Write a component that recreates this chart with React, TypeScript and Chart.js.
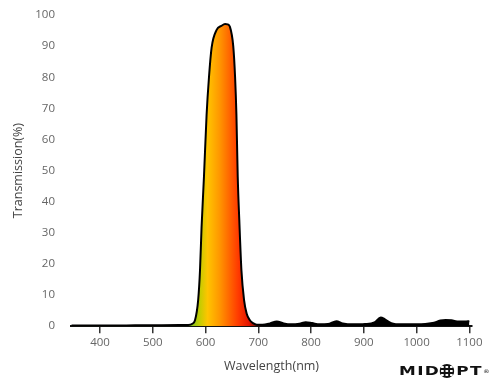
import { useEffect, useRef } from 'react';
import { Chart, registerables } from 'chart.js';

Chart.register(...registerables);

// Wavelength (nm) sample points and transmission (%)
const wavelengths = [
  346, 400, 450, 500, 550, 567, 575, 580, 586, 589.5, 592.5, 597, 602, 606.5, 611.5, 621, 630, 637, 642,
  646, 652.5, 656, 658.5, 661, 664, 668, 673, 678, 684, 690, 697, 708, 722, 735, 748, 762, 778, 790, 802,
  816, 832, 848, 860, 880, 902, 920, 932, 940, 952, 972, 1000, 1030, 1045, 1055, 1066, 1080, 1092, 1100,
];
const transmission = [
  0.2, 0.2, 0.25, 0.3, 0.35, 0.4, 0.8, 1.9, 8.4, 18, 32, 48, 68, 80, 89.5, 95.2, 96.5, 97.1, 97,
  96.3, 90, 80, 68, 48, 34, 18, 8.4, 4, 1.9, 1, 0.5, 0.5, 0.9, 1.5, 0.9, 0.6, 0.8, 1.3, 1.0,
  0.6, 0.7, 1.6, 0.9, 0.6, 0.7, 1.2, 2.8, 2.2, 1.0, 0.6, 0.6, 1.0, 1.8, 2.0, 1.9, 1.5, 1.5, 1.6,
];
const xTickValues = [400, 500, 600, 700, 800, 900, 1000, 1100];
const yTickValues = [0, 10, 20, 30, 40, 50, 60, 70, 80, 90, 100];
const xTitle = 'Wavelength(nm)';
const yTitle = 'Transmission(%)';

// Spectrum fill colours by wavelength
const spectrumStops: [number, string][] = [
  [572, '#7fc21f'],
  [590, '#c8cc00'],
  [604, '#ffc400'],
  [626, '#ff9800'],
  [646, '#ff6400'],
  [662, '#ff3a00'],
  [682, '#e41400'],
  [697, '#701000'],
  [710, '#000000'],
];

export default function App() {
  const canvasRef = useRef<HTMLCanvasElement | null>(null);

  useEffect(() => {
    const canvas = canvasRef.current;
    if (!canvas) return;
    const font = 'Open Sans';
    const chart = new Chart(canvas, {
      type: 'line',
      data: {
        datasets: [
          {
            data: wavelengths.map((x, i) => ({ x, y: transmission[i] })),
            borderColor: '#000',
            borderWidth: 2,
            pointRadius: 0,
            fill: 'origin',
            cubicInterpolationMode: 'monotone',
            backgroundColor: (context: any) => {
              const c = context.chart;
              const area = c.chartArea;
              if (!area) return 'rgba(0,0,0,0)';
              const xs = c.scales.x;
              const first = spectrumStops[0][0];
              const last = spectrumStops[spectrumStops.length - 1][0];
              const g = c.ctx.createLinearGradient(xs.getPixelForValue(first), 0, xs.getPixelForValue(last), 0);
              spectrumStops.forEach(([w, col]) => g.addColorStop((w - first) / (last - first), col));
              return g;
            },
          },
        ],
      },
      options: {
        responsive: false,
        animation: false,
        layout: { padding: { left: 9, right: 28, top: 15, bottom: 10 } },
        plugins: { legend: { display: false }, tooltip: { enabled: false } },
        scales: {
          x: {
            type: 'linear',
            min: 345,
            max: 1105,
            afterBuildTicks: (s: any) => {
              s.ticks = xTickValues.map((v) => ({ value: v }));
            },
            grid: { drawOnChartArea: false, drawTicks: true, tickLength: 7, color: '#333', lineWidth: 1.5 },
            border: { display: true, color: '#111', width: 2 },
            ticks: {
              padding: 3,
              color: '#666',
              font: { family: font, size: 11.5 },
              maxRotation: 0,
              callback: (v: any) => String(v),
            },
            title: {
              display: true,
              text: xTitle,
              color: '#444',
              font: { family: font, size: 12.5 },
              padding: { top: 6, bottom: 4 },
            },
          },
          y: {
            min: 0,
            max: 100,
            afterBuildTicks: (s: any) => {
              s.ticks = yTickValues.map((v) => ({ value: v }));
            },
            afterFit: (s: any) => {
              s.width = 62;
              s.paddingTop = 7;
              s.paddingBottom = 7;
            },
            grid: { display: false, drawTicks: false },
            border: { display: false },
            ticks: { padding: 16, color: '#666', font: { family: font, size: 11.5 }, callback: (v: any) => String(v) },
            title: {
              display: true,
              text: yTitle,
              color: '#444',
              font: { family: font, size: 12.5 },
              padding: { top: 2, bottom: 4 },
            },
          },
        },
      },
    } as any);
    return () => chart.destroy();
  }, []);

  return (
    <div style={{ position: 'absolute', left: 0, top: 0, width: 500, height: 388, background: '#fff' }}>
      <canvas ref={canvasRef} width={500} height={388} style={{ display: 'block' }} />
      <div
        style={{
          position: 'absolute',
          left: 399,
          top: 364,
          height: 14,
          display: 'flex',
          alignItems: 'center',
          fontFamily: '"DejaVu Sans", sans-serif',
          fontWeight: 700,
          fontSize: 12.5,
          letterSpacing: 1,
          color: '#111',
          lineHeight: '14px',
          whiteSpace: 'nowrap',
          transform: 'scaleX(1.35)',
          transformOrigin: 'left center',
        }}
      >
        <span>MID</span>
        <span
          aria-label="O"
          style={{
            display: 'inline-block',
            width: 11,
            height: 14,
            borderRadius: '50%',
            marginRight: 1,
            background: 'radial-gradient(circle, #fff 0 0.8px, transparent 1.2px) 0.5px 1px / 3.3px 4px, #111',
          }}
        />
        <span>PT</span>
        <span style={{ fontSize: 5, alignSelf: 'flex-start', letterSpacing: 0, fontWeight: 400 }}>®</span>
      </div>
    </div>
  );
}
